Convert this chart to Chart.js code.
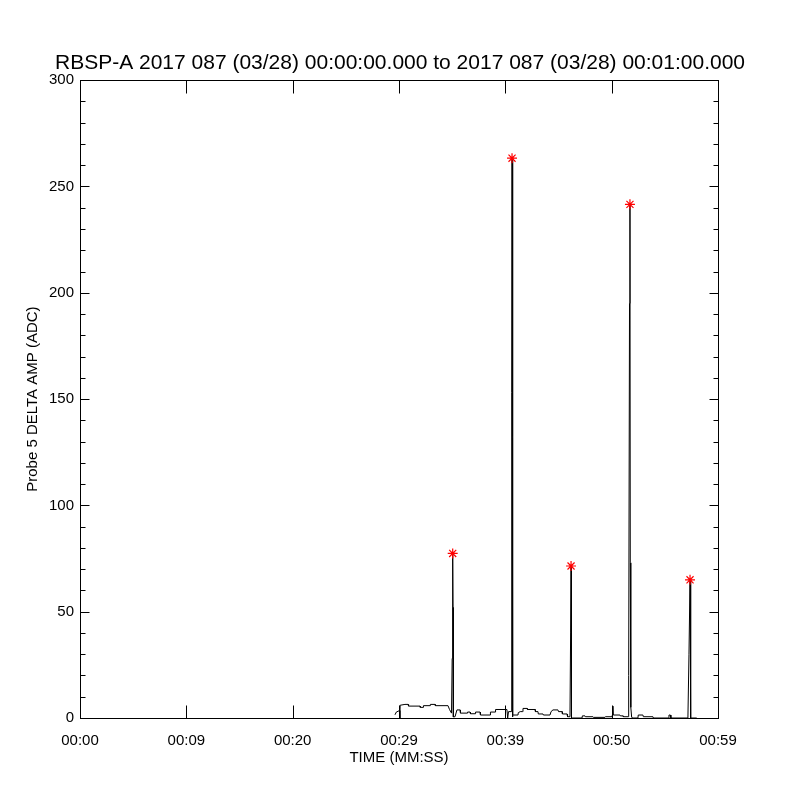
<!DOCTYPE html>
<html>
<head>
<meta charset="utf-8">
<script src="https://cdn.jsdelivr.net/npm/chart.js@4/dist/chart.umd.min.js"></script>
<style>
  body { margin: 0; background: #fff; }
  #wrap { width: 800px; height: 800px; }
</style>
</head>
<body>
<div id="wrap"><canvas id="probechart" width="800" height="800"></canvas></div>
<script>
const titleText = "RBSP-A 2017 087 (03/28) 00:00:00.000 to 2017 087 (03/28) 00:01:00.000";
const xTickLabels = ["00:00", "00:09", "00:20", "00:29", "00:39", "00:50", "00:59"];

// seconds since 00:00:00
const timeSec = [
  29.62, 29.75, 30.05, 30.08, 30.11, 30.56, 30.85, 30.90, 31.98, 32.00,
  32.26, 32.30, 32.92, 32.95, 33.39, 33.42, 34.61, 34.75, 34.94, 35.00,
  35.05, 35.08, 35.11, 35.27, 35.45, 35.74, 35.78, 36.40, 36.45, 36.68,
  36.72, 37.15, 37.20, 37.62, 37.66, 38.56, 38.60, 39.03, 39.08, 40.15,
  40.22, 40.30, 40.55, 40.60, 40.63, 40.66, 40.69, 40.72, 41.19, 41.22,
  41.40, 41.62, 41.66, 42.04, 42.08, 42.79, 42.83, 43.07, 43.10, 43.54,
  43.58, 44.20, 44.30, 44.48, 44.95, 45.00, 45.33, 45.37, 45.80, 45.85,
  46.08, 46.14, 46.18, 46.20, 46.24, 46.36, 47.21, 47.25, 47.49, 47.53,
  48.24, 48.28, 49.37, 49.41, 50.03, 50.07, 50.12, 50.15, 50.78, 50.82,
  51.07, 51.10, 51.55, 51.60, 51.68, 51.72, 51.75, 51.80, 51.88, 52.00,
  52.47, 52.50, 52.94, 52.98, 53.88, 53.92, 55.35, 55.39, 55.52, 55.57,
  57.17, 57.27, 57.37, 57.40, 57.46, 57.56, 58.00
];
const ampAdc = [
  1.5, 2.8, 3.5, 0, 6.0, 6.4, 6.4, 5.6, 5.6, 5.0,
  5.0, 5.8, 5.8, 6.4, 6.4, 5.8, 5.8, 4.0, 2.3, 28,
  77.4, 52, 0.5, 0.6, 3.8, 3.8, 2.3, 2.3, 2.8, 2.8,
  2.0, 2.0, 2.8, 2.8, 1.4, 1.4, 2.8, 2.8, 4.0, 4.0,
  0, 3.0, 3.0, 153, 263.3, 98, 0.5, 1.4, 1.4, 2.5,
  3.0, 3.0, 4.5, 4.5, 4.0, 4.0, 3.0, 3.0, 1.9, 1.9,
  1.4, 1.4, 3.0, 3.8, 3.8, 3.0, 3.0, 1.9, 1.9, 0.6,
  0.6, 40, 71.5, 60, 0, 0, 0, 1.0, 1.0, 0.6,
  0.6, 0.3, 0.3, 0.6, 0.6, 1.4, 5.6, 1.4, 1.4, 1.0,
  1.0, 0.6, 0.6, 20, 195, 241.6, 73, 5, 0.3, 0,
  0, 1.4, 1.4, 0.6, 0.6, 0, 0, 1.4, 1.4, 0,
  0, 30, 65, 58, 0, 0, 0
];

// detected peaks (red asterisks)
const peakSec = [35.05, 40.63, 46.18, 51.72, 57.37];
const peakAmp = [77.4, 263.3, 71.5, 241.6, 65];

const fontFam = "'Liberation Sans', Arial, sans-serif";

// IDL style frame with inward ticks
const idlFrame = {
  id: "idlFrame",
  afterDraw(chart) {
    const c = chart.ctx;
    const a = chart.chartArea;
    const xs = chart.scales.x;
    const ys = chart.scales.y;
    const l = Math.round(a.left) + 0.5, r = Math.round(a.right) + 0.5;
    const t = Math.round(a.top) + 0.5, b = Math.round(a.bottom) + 0.5;
    c.save();
    c.strokeStyle = "#000";
    c.lineWidth = 1;
    c.strokeRect(l, t, r - l, b - t);
    c.beginPath();
    xs.ticks.forEach(tk => {
      const px = Math.round(xs.getPixelForValue(tk.value)) + 0.5;
      c.moveTo(px, b); c.lineTo(px, b - 13);
      c.moveTo(px, t); c.lineTo(px, t + 13);
    });
    for (let v = 0; v <= 300; v += 10) {
      const py = Math.round(ys.getPixelForValue(v)) + 0.5;
      const len = v % 50 === 0 ? 9 : 5;
      c.moveTo(l, py); c.lineTo(l + len, py);
      c.moveTo(r, py); c.lineTo(r - len, py);
    }
    c.stroke();
    c.restore();
  }
};

const ctx = document.getElementById("probechart").getContext("2d");

new Chart(ctx, {
  type: "scatter",
  data: {
    datasets: [
      {
        label: "peaks",
        data: peakSec.map((t, i) => ({ x: t, y: peakAmp[i] })),
        pointStyle: "star",
        pointRadius: 5,
        borderColor: "#ff0000",
        backgroundColor: "#ff0000",
        borderWidth: 1.2,
        order: 0
      },
      {
        label: "delta amp",
        data: timeSec.map((t, i) => ({ x: t, y: ampAdc[i] })),
        showLine: true,
        pointRadius: 0,
        borderColor: "#000",
        borderWidth: 1,
        tension: 0,
        order: 1
      }
    ]
  },
  options: {
    responsive: false,
    animation: false,
    plugins: {
      legend: { display: false },
      tooltip: { enabled: false },
      title: {
        display: true,
        text: titleText,
        color: "#000",
        font: { family: fontFam, size: 21, weight: "normal" },
        padding: { top: 51, bottom: 4 }
      }
    },
    scales: {
      x: {
        type: "linear",
        min: 0,
        max: 60,
        grid: { display: false, drawTicks: false },
        border: { display: false },
        ticks: {
          stepSize: 10,
          autoSkip: false,
          maxRotation: 0,
          padding: 14,
          color: "#000",
          font: { family: fontFam, size: 15 },
          callback: (v, i) => xTickLabels[i]
        },
        title: {
          display: true,
          text: "TIME (MM:SS)",
          color: "#000",
          font: { family: fontFam, size: 15 },
          padding: { top: 0, bottom: 33 }
        },
        afterFit: s => { s.height = 82; }
      },
      y: {
        min: 0,
        max: 300,
        grid: { display: false, drawTicks: false },
        border: { display: false },
        ticks: {
          stepSize: 50,
          padding: 6,
          color: "#000",
          font: { family: fontFam, size: 15 }
        },
        title: {
          display: true,
          text: "Probe 5 DELTA AMP (ADC)",
          color: "#000",
          font: { family: fontFam, size: 15 },
          padding: { top: 24, bottom: 0 }
        },
        afterFit: s => { s.width = 80; }
      },
      yr: {
        position: "right",
        min: 0,
        max: 300,
        grid: { display: false, drawTicks: false },
        border: { display: false },
        ticks: { display: false },
        afterFit: s => { s.width = 82; }
      }
    }
  },
  plugins: [idlFrame]
});
</script>
</body>
</html>
